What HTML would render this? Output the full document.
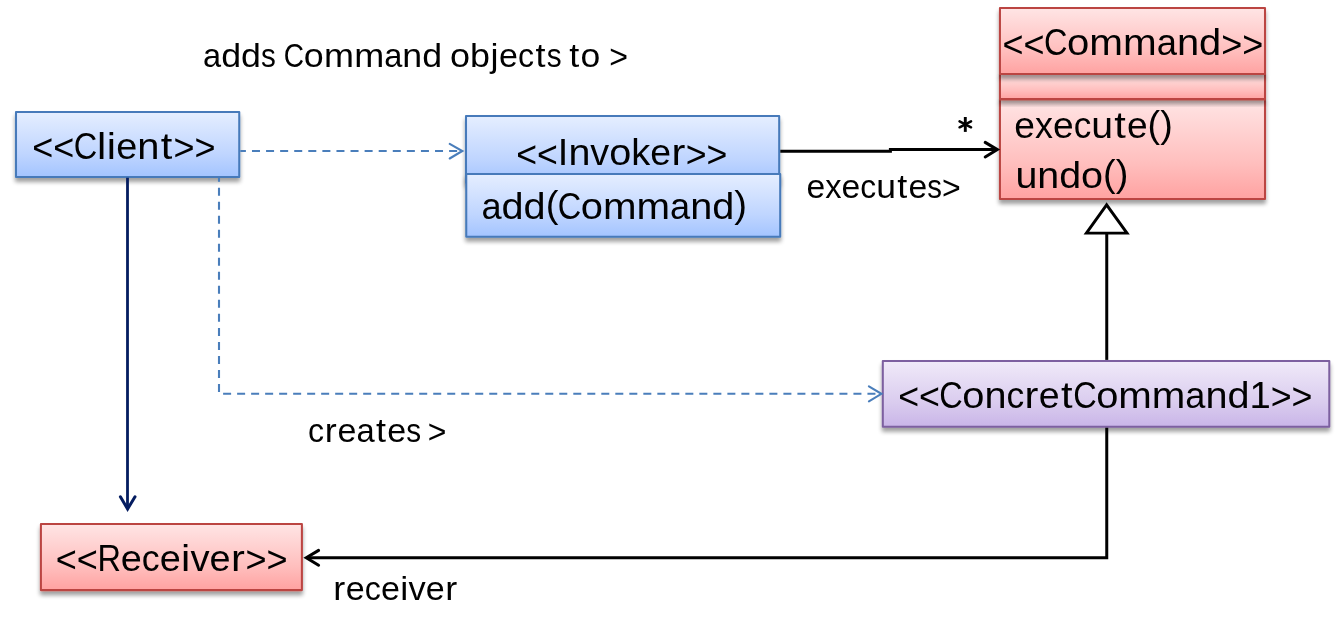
<!DOCTYPE html>
<html><head><meta charset="utf-8"><title>Command pattern</title>
<style>
html,body{margin:0;padding:0;background:#fff;}
body{width:1344px;height:633px;overflow:hidden;font-family:"Liberation Sans",sans-serif;}
svg{display:block;}
text{font-family:"Liberation Sans",sans-serif;fill:#000;}
</style></head><body>
<svg width="1344" height="633" viewBox="0 0 1344 633">
<defs>
<linearGradient id="gb" x1="0" y1="1" x2="0" y2="0"><stop offset="0" stop-color="#a3c4ff"/><stop offset=".35" stop-color="#bfd5ff"/><stop offset="1" stop-color="#e5eeff"/></linearGradient>
<linearGradient id="gr" x1="0" y1="1" x2="0" y2="0"><stop offset="0" stop-color="#ffa2a1"/><stop offset=".35" stop-color="#ffbebd"/><stop offset="1" stop-color="#ffe5e5"/></linearGradient>
<linearGradient id="gp" x1="0" y1="1" x2="0" y2="0"><stop offset="0" stop-color="#c9b5e8"/><stop offset=".35" stop-color="#d9cbee"/><stop offset="1" stop-color="#f0eaf9"/></linearGradient>
<filter id="sh" x="-10%" y="-20%" width="120%" height="150%"><feGaussianBlur in="SourceAlpha" stdDeviation="2.1"/><feOffset dx="0" dy="3.5" result="b"/><feComponentTransfer><feFuncA type="linear" slope=".38"/></feComponentTransfer><feMerge><feMergeNode/><feMergeNode in="SourceGraphic"/></feMerge></filter>
</defs>
<rect width="1344" height="633" fill="#fff"/>

<!-- boxes -->
<g stroke-width="2.05" stroke-linejoin="round">
<rect x="16.0" y="112.0" width="223.25" height="65.0" fill="url(#gb)" stroke="#467aba" filter="url(#sh)"/>
<rect x="466.0" y="116.0" width="313.2" height="66.8" fill="url(#gb)" stroke="#467aba" filter="url(#sh)"/>
<rect x="466.25" y="174.0" width="313.95" height="62.8" fill="url(#gb)" stroke="#467aba" filter="url(#sh)"/>
<rect x="999.95" y="99.15" width="265.05" height="99.75" fill="url(#gr)" stroke="#bb4542" filter="url(#sh)"/>
<rect x="999.95" y="73.95" width="265.05" height="25.2" fill="url(#gr)" stroke="#bb4542" filter="url(#sh)"/>
<rect x="999.95" y="8.05" width="265.05" height="65.9" fill="url(#gr)" stroke="#bb4542" filter="url(#sh)"/>
<rect x="882.8" y="360.9" width="446.5" height="65.8" fill="url(#gp)" stroke="#7d60a0" filter="url(#sh)"/>
<rect x="40.9" y="523.9" width="261.0" height="66.2" fill="url(#gr)" stroke="#bb4542" filter="url(#sh)"/>
</g>

<!-- connectors -->
<g fill="none" stroke="#4a7ebb" stroke-width="2.1">
<path d="M240.3 151H461.5" stroke-dasharray="8 6.08" stroke-dashoffset="2.4"/>
<path d="M449.7 143.9L462.3 151L449.7 158.5" stroke-linecap="round"/>
<path d="M219 177.7V393.8H880.5" stroke-dasharray="8 6.007" stroke-dashoffset="3.9"/>
<path d="M868.9 386.3L881.4 393.8L868.9 401.3" stroke-linecap="round"/>
</g>
<g fill="none" stroke="#041c60" stroke-width="2.8">
<path d="M127.5 177.7V507.5"/>
<path d="M120.4 496.8L127.6 509L135 496.8" stroke-linecap="round" stroke-width="3"/>
</g>
<g fill="none" stroke="#000" stroke-width="3">
<path d="M780.3 151.2H890.4V149.6H996.5"/>
<path d="M985.2 142.4L997.3 149.6L985.2 157" stroke-linecap="round"/>
<path d="M1106.75 359.9V234"/>
<path d="M1106.6 204.8L1086.4 233.1H1127L1106.6 204.8Z" fill="#fff" stroke-width="2.9"/>
<path d="M1106.75 427.8V557.75H307.5"/>
<path d="M318.6 550.4L306.3 557.75L318.6 565.2" stroke-linecap="round"/>
</g>

<g opacity="0.999">
<g font-size="37.8"><!-- &lt;&lt;Client&gt;&gt; -->
<text transform="translate(32.23 160.40) scale(0.953 1)">&lt;</text>
<text transform="translate(53.28 160.40) scale(0.953 1)">&lt;</text>
<text transform="translate(73.84 158.90) scale(0.860 1)">C</text>
<text transform="translate(97.06 158.90) scale(1.100 1)">l</text>
<text transform="translate(106.74 158.90) scale(1.100 1)">i</text>
<text transform="translate(116.20 158.90) scale(1.001 1)">e</text>
<text transform="translate(137.24 158.90) scale(1.055 1)">n</text>
<text transform="translate(160.73 158.90) scale(1.100 1)">t</text>
<text transform="translate(173.58 160.40) scale(0.953 1)">&gt;</text>
<text transform="translate(194.62 160.40) scale(0.953 1)">&gt;</text>
</g>
<g font-size="37.8"><!-- &lt;&lt;Invoker&gt;&gt; -->
<text transform="translate(516.25 166.50) scale(0.943 1)">&lt;</text>
<text transform="translate(537.05 166.50) scale(0.943 1)">&lt;</text>
<text transform="translate(557.86 165.00) scale(1.003 1)">I</text>
<text transform="translate(568.39 165.00) scale(1.043 1)">n</text>
<text transform="translate(590.33 165.00) scale(0.999 1)">v</text>
<text transform="translate(609.21 165.00) scale(1.047 1)">o</text>
<text transform="translate(631.23 165.00) scale(1.006 1)">k</text>
<text transform="translate(650.25 165.00) scale(0.990 1)">e</text>
<text transform="translate(671.42 165.00) scale(1.100 1)">r</text>
<text transform="translate(685.64 166.50) scale(0.943 1)">&gt;</text>
<text transform="translate(706.45 166.50) scale(0.943 1)">&gt;</text>
</g>
<g font-size="37.8"><!-- add(Command) -->
<text transform="translate(481.42 218.50) scale(0.957 1)">a</text>
<text transform="translate(501.55 218.50) scale(1.049 1)">d</text>
<text transform="translate(523.61 218.50) scale(1.049 1)">d</text>
<text transform="translate(545.67 217.30) scale(1.012 1)">(</text>
<text transform="translate(557.86 218.50) scale(0.860 1)">C</text>
<text transform="translate(580.80 218.50) scale(1.053 1)">o</text>
<text transform="translate(602.95 218.50) scale(1.066 1)">m</text>
<text transform="translate(636.52 218.50) scale(1.066 1)">m</text>
<text transform="translate(670.10 218.50) scale(0.957 1)">a</text>
<text transform="translate(690.23 218.50) scale(1.049 1)">n</text>
<text transform="translate(712.29 218.50) scale(1.049 1)">d</text>
<text transform="translate(734.35 217.30) scale(1.012 1)">)</text>
</g>
<g font-size="37.8"><!-- &lt;&lt;Command&gt;&gt; -->
<text transform="translate(1002.48 56.50) scale(0.952 1)">&lt;</text>
<text transform="translate(1023.50 56.50) scale(0.952 1)">&lt;</text>
<text transform="translate(1044.03 55.00) scale(0.860 1)">C</text>
<text transform="translate(1067.01 55.00) scale(1.058 1)">o</text>
<text transform="translate(1089.26 55.00) scale(1.071 1)">m</text>
<text transform="translate(1122.98 55.00) scale(1.071 1)">m</text>
<text transform="translate(1156.70 55.00) scale(0.962 1)">a</text>
<text transform="translate(1176.92 55.00) scale(1.054 1)">n</text>
<text transform="translate(1199.07 55.00) scale(1.054 1)">d</text>
<text transform="translate(1221.23 56.50) scale(0.952 1)">&gt;</text>
<text transform="translate(1242.25 56.50) scale(0.952 1)">&gt;</text>
</g>
<g font-size="37.8"><!-- execute() -->
<text transform="translate(1014.36 137.90) scale(0.983 1)">e</text>
<text transform="translate(1035.03 137.90) scale(0.951 1)">x</text>
<text transform="translate(1053.00 137.90) scale(0.983 1)">e</text>
<text transform="translate(1073.67 137.90) scale(0.929 1)">c</text>
<text transform="translate(1091.23 137.90) scale(1.037 1)">u</text>
<text transform="translate(1114.20 137.90) scale(1.100 1)">t</text>
<text transform="translate(1126.93 137.90) scale(0.983 1)">e</text>
<text transform="translate(1147.61 136.70) scale(0.999 1)">(</text>
<text transform="translate(1160.18 136.70) scale(0.999 1)">)</text>
</g>
<g font-size="37.8"><!-- undo() -->
<text transform="translate(1015.38 187.50) scale(1.042 1)">u</text>
<text transform="translate(1037.28 187.50) scale(1.042 1)">n</text>
<text transform="translate(1059.19 187.50) scale(1.042 1)">d</text>
<text transform="translate(1081.10 187.50) scale(1.046 1)">o</text>
<text transform="translate(1103.08 186.30) scale(1.004 1)">(</text>
<text transform="translate(1115.73 186.30) scale(1.004 1)">)</text>
</g>
<g font-size="37.8"><!-- &lt;&lt;ConcretCommand1&gt;&gt; -->
<text transform="translate(898.14 409.00) scale(0.947 1)">&lt;</text>
<text transform="translate(919.04 409.00) scale(0.947 1)">&lt;</text>
<text transform="translate(939.37 407.50) scale(0.860 1)">C</text>
<text transform="translate(962.29 407.50) scale(1.052 1)">o</text>
<text transform="translate(984.40 407.50) scale(1.048 1)">n</text>
<text transform="translate(1006.43 407.50) scale(0.939 1)">c</text>
<text transform="translate(1024.58 407.50) scale(1.100 1)">r</text>
<text transform="translate(1038.82 407.50) scale(0.994 1)">e</text>
<text transform="translate(1060.97 407.50) scale(1.100 1)">t</text>
<text transform="translate(1073.22 407.50) scale(0.860 1)">C</text>
<text transform="translate(1096.14 407.50) scale(1.052 1)">o</text>
<text transform="translate(1118.25 407.50) scale(1.065 1)">m</text>
<text transform="translate(1151.77 407.50) scale(1.065 1)">m</text>
<text transform="translate(1185.30 407.50) scale(0.956 1)">a</text>
<text transform="translate(1205.39 407.50) scale(1.048 1)">n</text>
<text transform="translate(1227.42 407.50) scale(1.048 1)">d</text>
<text transform="translate(1249.45 407.50) scale(1.012 1)">1</text>
<text transform="translate(1270.72 409.00) scale(0.947 1)">&gt;</text>
<text transform="translate(1291.61 409.00) scale(0.947 1)">&gt;</text>
</g>
<g font-size="37.8"><!-- &lt;&lt;Receiver&gt;&gt; -->
<text transform="translate(55.73 572.00) scale(0.954 1)">&lt;</text>
<text transform="translate(76.79 572.00) scale(0.954 1)">&lt;</text>
<text transform="translate(97.59 570.50) scale(0.860 1)">R</text>
<text transform="translate(120.80 570.50) scale(1.002 1)">e</text>
<text transform="translate(141.86 570.50) scale(0.946 1)">c</text>
<text transform="translate(159.74 570.50) scale(1.002 1)">e</text>
<text transform="translate(181.02 570.50) scale(1.100 1)">i</text>
<text transform="translate(190.48 570.50) scale(1.011 1)">v</text>
<text transform="translate(209.59 570.50) scale(1.002 1)">e</text>
<text transform="translate(231.10 570.50) scale(1.100 1)">r</text>
<text transform="translate(245.41 572.00) scale(0.954 1)">&gt;</text>
<text transform="translate(266.46 572.00) scale(0.954 1)">&gt;</text>
</g>
<g font-size="32.7"><!-- adds -->
<text transform="translate(203.09 67.00) scale(0.996 1)">a</text>
<text transform="translate(221.21 67.00) scale(1.092 1)">d</text>
<text transform="translate(241.07 67.00) scale(1.092 1)">d</text>
<text transform="translate(260.93 67.00) scale(0.905 1)">s</text>
</g>
<g font-size="32.7"><!-- Command -->
<text transform="translate(283.63 67.00) scale(0.860 1)">C</text>
<text transform="translate(303.87 67.00) scale(1.096 1)">o</text>
<text transform="translate(323.92 67.00) scale(1.100 1)">m</text>
<text transform="translate(354.14 67.00) scale(1.100 1)">m</text>
<text transform="translate(384.23 67.00) scale(0.996 1)">a</text>
<text transform="translate(402.34 67.00) scale(1.092 1)">n</text>
<text transform="translate(422.19 67.00) scale(1.092 1)">d</text>
</g>
<g font-size="32.7"><!-- objects -->
<text transform="translate(450.01 67.00) scale(1.100 1)">o</text>
<text transform="translate(470.03 67.00) scale(1.097 1)">b</text>
<text transform="translate(490.52 67.00) scale(1.100 1)">j</text>
<text transform="translate(499.05 67.00) scale(1.040 1)">e</text>
<text transform="translate(517.98 67.00) scale(0.983 1)">c</text>
<text transform="translate(535.41 67.00) scale(1.100 1)">t</text>
<text transform="translate(546.77 67.00) scale(0.909 1)">s</text>
</g>
<g font-size="32.7"><!-- to -->
<text transform="translate(569.28 67.00) scale(1.100 1)">t</text>
<text transform="translate(580.56 67.00) scale(1.087 1)">o</text>
</g>
<g font-size="32.7"><!-- &gt; -->
<text transform="translate(609.27 68.00) scale(0.982 1)">&gt;</text>
</g>
<g font-size="32.7"><!-- executes&gt; -->
<text transform="translate(806.62 197.80) scale(1.030 1)">e</text>
<text transform="translate(825.34 197.80) scale(0.996 1)">x</text>
<text transform="translate(841.62 197.80) scale(1.030 1)">e</text>
<text transform="translate(860.35 197.80) scale(0.973 1)">c</text>
<text transform="translate(876.25 197.80) scale(1.085 1)">u</text>
<text transform="translate(897.29 197.80) scale(1.100 1)">t</text>
<text transform="translate(908.58 197.80) scale(1.030 1)">e</text>
<text transform="translate(927.30 197.80) scale(0.899 1)">s</text>
<text transform="translate(942.00 198.80) scale(0.980 1)">&gt;</text>
</g>
<g font-size="32.7"><!-- creates -->
<text transform="translate(308.10 441.75) scale(0.984 1)">c</text>
<text transform="translate(324.83 441.75) scale(1.100 1)">r</text>
<text transform="translate(337.45 441.75) scale(1.041 1)">e</text>
<text transform="translate(356.39 441.75) scale(1.001 1)">a</text>
<text transform="translate(375.97 441.75) scale(1.100 1)">t</text>
<text transform="translate(387.33 441.75) scale(1.041 1)">e</text>
<text transform="translate(406.27 441.75) scale(0.909 1)">s</text>
</g>
<g font-size="32.7"><!-- &gt; -->
<text transform="translate(427.68 442.75) scale(0.976 1)">&gt;</text>
</g>
<g font-size="32.7"><!-- receiver -->
<text transform="translate(333.19 599.60) scale(1.100 1)">r</text>
<text transform="translate(345.82 599.60) scale(1.042 1)">e</text>
<text transform="translate(364.77 599.60) scale(0.985 1)">c</text>
<text transform="translate(380.88 599.60) scale(1.042 1)">e</text>
<text transform="translate(400.19 599.60) scale(1.100 1)">i</text>
<text transform="translate(408.55 599.60) scale(1.052 1)">v</text>
<text transform="translate(425.75 599.60) scale(1.042 1)">e</text>
<text transform="translate(445.36 599.60) scale(1.100 1)">r</text>
</g>
</g>
<!-- multiplicity asterisk -->
<g fill="none" stroke="#000" stroke-width="2.5" stroke-linecap="round" aria-label="*">
<path d="M965.3 117V131.9" stroke-linecap="butt" stroke-width="2.9"/>
<path d="M959.6 121.3L971 127.3"/>
<path d="M959.6 127.3L971 121.3"/>
</g>
</svg>
</body></html>
